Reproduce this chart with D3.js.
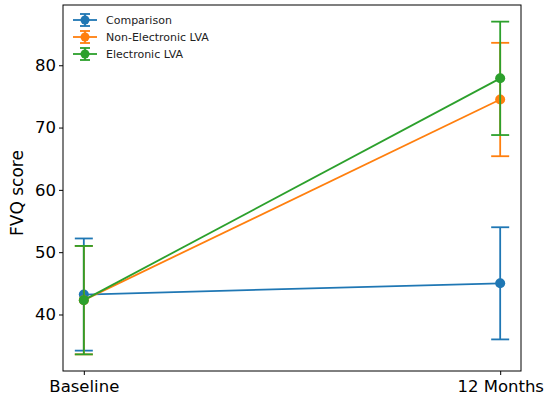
<!DOCTYPE html>
<html>
<head>
<meta charset="utf-8">
<script src="https://cdn.jsdelivr.net/npm/d3@7"></script>
<style>
  body { margin: 0; background: #fff; }
  svg { font-family: "DejaVu Sans", sans-serif; }
</style>
</head>
<body>
<svg id="chart" width="550" height="402"></svg>
<script>
// values
const timepoints = ["Baseline", "12 Months"];
const groups = ["Comparison", "Non-Electronic LVA", "Electronic LVA"];
const comparisonMean = [43.2, 45.0];
const comparisonErr = [9.0, 9.0];
const nonElectronicMean = [42.3, 74.5];
const nonElectronicErr = [8.7, 9.1];
const electronicMean = [42.3, 77.9];
const electronicErr = [8.7, 9.1];
const yTicks = [40, 50, 60, 70, 80];

const colors = ["#1f77b4", "#ff7f0e", "#2ca02c"];
const series = [
    {name: groups[0], mean: comparisonMean, err: comparisonErr, color: colors[0]},
    {name: groups[1], mean: nonElectronicMean, err: nonElectronicErr, color: colors[1]},
    {name: groups[2], mean: electronicMean, err: electronicErr, color: colors[2]}
];

const svg = d3.select("#chart");
const margin = {top: 5, right: 29, bottom: 31, left: 63};
const width = 550 - margin.left - margin.right;
const height = 402 - margin.top - margin.bottom;
const g = svg.append("g").attr("transform", "translate(" + margin.left + "," + margin.top + ")");

// matplotlib style 5% padding on both axes
const x = d3.scaleLinear().domain([-0.05, 1.05]).range([0, width]);
let lo = d3.min(series, s => d3.min(s.mean, (m, i) => m - s.err[i]));
let hi = d3.max(series, s => d3.max(s.mean, (m, i) => m + s.err[i]));
const pad = (hi - lo) * 0.05;
const y = d3.scaleLinear().domain([lo - pad, hi + pad]).range([height, 0]);

const line = d3.line()
    .x((d, i) => x(i))
    .y(d => y(d));

const cap = 9;
const lw = 1.8;
series.forEach(function (s) {
    const sg = g.append("g");
    s.mean.forEach(function (m, i) {
        const cx = x(i);
        const y0 = y(m - s.err[i]);
        const y1 = y(m + s.err[i]);
        sg.append("line").attr("x1", cx).attr("x2", cx).attr("y1", y0).attr("y2", y1)
            .attr("stroke", s.color).attr("stroke-width", lw);
        [y0, y1].forEach(function (yy) {
            sg.append("line").attr("x1", cx - cap).attr("x2", cx + cap).attr("y1", yy).attr("y2", yy)
                .attr("stroke", s.color).attr("stroke-width", lw);
        });
    });
    sg.append("path").attr("d", line(s.mean))
        .attr("fill", "none").attr("stroke", s.color).attr("stroke-width", lw);
    sg.selectAll("circle").data(s.mean).enter().append("circle")
        .attr("cx", (d, i) => x(i)).attr("cy", d => y(d)).attr("r", 5)
        .attr("fill", s.color);
});

// axes
const xAxis = g.append("g").attr("transform", "translate(0," + height + ")")
    .call(d3.axisBottom(x).tickValues([0, 1]).tickFormat((d, i) => timepoints[i]).tickSizeOuter(0).tickSize(4));
const yAxis = g.append("g")
    .call(d3.axisLeft(y).tickValues(yTicks).tickSizeOuter(0).tickSize(4));
[xAxis, yAxis].forEach(function (a) {
    a.select(".domain").remove();
    a.selectAll("line").attr("stroke", "#000").attr("stroke-width", 1);
    a.selectAll("text").attr("font-size", 16.5).attr("fill", "#000")
        .attr("font-family", "DejaVu Sans, sans-serif");
});
xAxis.selectAll("text").attr("dy", "0.85em");
yAxis.selectAll("text").attr("x", -7);

g.append("rect").attr("width", width).attr("height", height)
    .attr("fill", "none").attr("stroke", "#000").attr("stroke-width", 1);

g.append("text")
    .attr("transform", "rotate(-90)")
    .attr("x", -height / 2 - 5).attr("y", -40)
    .attr("text-anchor", "middle")
    .attr("font-size", 17)
    .text("FVQ score");

// legend
const legend = g.append("g").attr("transform", "translate(10,15)");
series.forEach(function (s, i) {
    const row = legend.append("g").attr("transform", "translate(0," + i * 17 + ")");
    row.append("line").attr("x1", 0).attr("x2", 24).attr("stroke", s.color).attr("stroke-width", lw);
    row.append("line").attr("x1", 12).attr("x2", 12).attr("y1", -6).attr("y2", 6)
        .attr("stroke", s.color).attr("stroke-width", lw);
    [-6, 6].forEach(function (yy) {
        row.append("line").attr("x1", 7).attr("x2", 17).attr("y1", yy).attr("y2", yy)
            .attr("stroke", s.color).attr("stroke-width", lw);
    });
    row.append("circle").attr("cx", 12).attr("r", 4.5).attr("fill", s.color);
    row.append("text").attr("x", 33).attr("dy", "0.35em")
        .attr("font-size", 11).attr("fill", "#222").text(s.name);
});
</script>
</body>
</html>
